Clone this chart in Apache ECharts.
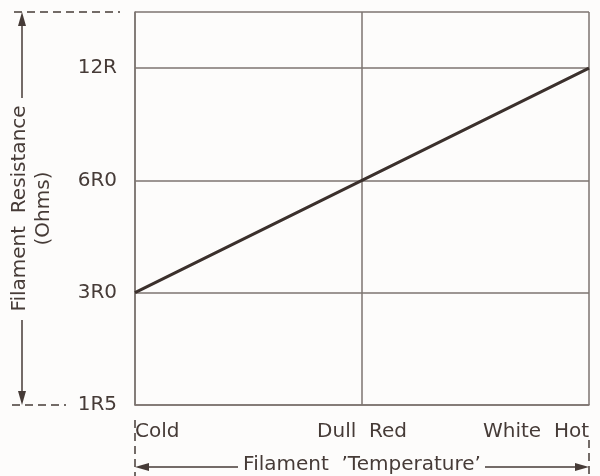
<!DOCTYPE html>
<html>
<head>
<meta charset="utf-8">
<script src="https://cdn.jsdelivr.net/npm/echarts@6/dist/echarts.min.js"></script>
<style>
  html, body { margin: 0; padding: 0; background: #fdfcfb; }
  #chart { width: 600px; height: 476px; }
</style>
</head>
<body>
<div id="chart"></div>
<script>
// data
const temperatures = ['Cold', 'Dull  Red', 'White  Hot']
const yTickLabels = ['1R5', '3R0', '6R0', '12R']
const resistance = ['3R0', '6R0', '12R']   // one reading per temperature

// layout
const L = 135, R = 589, T = 12, B = 405
const ink = '#463b37'
const gridInk = '#7d7470'
const font = 'DejaVu Sans'

const chart = echarts.init(document.getElementById('chart'))

const arrow = (x, y, dir) => {
  // small filled arrowhead, tip at (x, y)
  const len = 14, w = 4
  let pts
  if (dir === 'up') pts = [[x, y], [x - w, y + len], [x + w, y + len]]
  if (dir === 'down') pts = [[x, y], [x - w, y - len], [x + w, y - len]]
  if (dir === 'left') pts = [[x, y], [x + len, y - w], [x + len, y + w]]
  if (dir === 'right') pts = [[x, y], [x - len, y - w], [x - len, y + w]]
  return { type: 'polygon', shape: { points: pts }, style: { fill: ink } }
}
const line = (x1, y1, x2, y2, dash) => ({
  type: 'line',
  shape: { x1, y1, x2, y2 },
  style: { stroke: ink, lineWidth: 1.5, lineDash: dash ? [8, 5] : null }
})

const options = {
  backgroundColor: '#fdfcfb',
  animation: false,
  grid: { left: L, right: 600 - R, top: T, bottom: 476 - B, outerBoundsMode: 'none', containLabel: false },
  xAxis: {
    type: 'category',
    data: temperatures,
    boundaryGap: false,
    name: 'Filament  \u2019Temperature\u2019',
    nameLocation: 'middle',
    nameGap: 50,
    nameTextStyle: { color: ink, fontFamily: font, fontSize: 20 },
    axisLine: { lineStyle: { color: gridInk, width: 1.5 } },
    axisTick: { show: false },
    axisLabel: {
      color: ink, fontFamily: font, fontSize: 20, margin: 17,
      alignMinLabel: 'left', alignMaxLabel: 'right'
    },
    splitLine: { show: true, lineStyle: { color: gridInk, width: 1.5 } }
  },
  yAxis: {
    type: 'value',
    min: 0,
    max: 3.5,
    interval: 1,
    name: 'Filament  Resistance\n(Ohms)',
    nameLocation: 'middle',
    nameGap: 79,
    nameRotate: 90,
    nameTextStyle: { color: ink, fontFamily: font, fontSize: 20, lineHeight: 24 },
    axisLine: { show: true, lineStyle: { color: gridInk, width: 1.5 } },
    axisTick: { show: false },
    axisLabel: {
      color: ink, fontFamily: font, fontSize: 20, margin: 18,
      formatter: v => yTickLabels[v] || ''
    },
    splitLine: { show: true, lineStyle: { color: gridInk, width: 1.5 } }
  },
  series: [{
    type: 'line',
    data: resistance.map(r => yTickLabels.indexOf(r)),
    symbol: 'none',
    lineStyle: { color: '#3b302c', width: 3 }
  }],
  graphic: [
    // resistance dimension line
    line(14, T, 120, T, true),
    line(12, B, 66, B, true),
    line(22, T + 4, 22, 98),
    line(22, 320, 22, B - 4),
    arrow(22, T, 'up'),
    arrow(22, B, 'down'),
    // temperature dimension line
    line(L, 420, L, 476, true),
    line(R, 440, R, 476, true),
    line(L + 4, 467, 238, 467),
    line(485, 467, R - 4, 467),
    arrow(L, 467, 'left'),
    arrow(R, 467, 'right')
  ]
}

chart.setOption(options)
</script>
</body>
</html>
